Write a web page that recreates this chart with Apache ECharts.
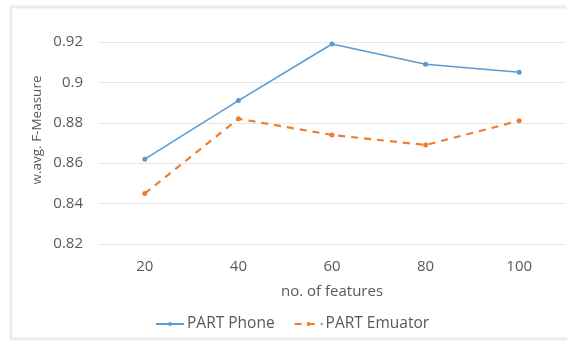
<!DOCTYPE html>
<html>
<head>
<meta charset="utf-8">
<script src="https://cdn.jsdelivr.net/npm/echarts@6/dist/echarts.min.js"></script>
<style>
  html, body { margin: 0; padding: 0; background: #fff; }
  #chart { width: 567px; height: 341px; }
</style>
</head>
<body>
<div id="chart"></div>
<script>
// Number of features used by the classifier
const featureCounts = ['20', '40', '60', '80', '100'];
// Weighted average F-measure per configuration
const partPhone = [0.862, 0.891, 0.919, 0.909, 0.905];
const partEmulator = [0.845, 0.882, 0.874, 0.869, 0.881];
// Value axis ticks
const yMin = 0.82;
const yMax = 0.92;
const yStep = 0.02;

const textColor = '#595959';
const fontFamily = '"Open Sans", "Liberation Sans", sans-serif';

const chart = echarts.init(document.getElementById('chart'));
chart.setOption({
  animation: false,
  backgroundColor: '#fff',
  textStyle: { fontFamily: fontFamily },
  graphic: [
    {
      type: 'rect',
      shape: { x: 11, y: 7, width: 570, height: 332 },
      style: { fill: 'none', stroke: '#ececec', lineWidth: 3 },
      silent: true
    },
    {
      type: 'text',
      x: 37,
      y: 130,
      rotation: Math.PI / 2,
      style: {
        text: 'w.avg. F-Measure',
        fill: textColor,
        font: '13.5px ' + fontFamily,
        align: 'center',
        verticalAlign: 'middle'
      }
    }
  ],
  grid: { left: 98, right: 1, top: 42, bottom: 97, containLabel: false },
  xAxis: {
    type: 'category',
    data: featureCounts,
    boundaryGap: true,
    name: 'no. of features',
    nameLocation: 'middle',
    nameGap: 40,
    nameTextStyle: { color: textColor, fontSize: 15 },
    axisLine: { show: false },
    axisTick: { show: false },
    axisLabel: { color: textColor, fontSize: 15, margin: 15 }
  },
  yAxis: {
    type: 'value',
    min: yMin,
    max: yMax,
    interval: yStep,
    axisLine: { show: false },
    axisTick: { show: false },
    axisLabel: {
      color: textColor,
      fontSize: 15,
      margin: 15,
      formatter: v => String(parseFloat(v.toFixed(2)))
    },
    splitLine: { lineStyle: { color: '#e6e6e6', width: 1 } }
  },
  legend: {
    top: 316,
    left: 155,
    padding: 0,
    itemWidth: 28,
    itemHeight: 5,
    itemGap: 19,
    textStyle: { color: textColor, fontSize: 15.5, padding: [0, 0, 0, -2] },
    data: ['PART Phone', 'PART Emuator']
  },
  series: [
    {
      name: 'PART Phone',
      type: 'line',
      data: partPhone,
      symbol: 'circle',
      symbolSize: 5,
      itemStyle: { color: '#5B9BD5' },
      lineStyle: { color: '#5B9BD5', width: 1.6 }
    },
    {
      name: 'PART Emuator',
      type: 'line',
      data: partEmulator,
      symbol: 'circle',
      symbolSize: 5,
      itemStyle: { color: '#ED7D31' },
      lineStyle: { color: '#ED7D31', width: 2.2, type: [7, 6] }
    }
  ]
});
</script>
</body>
</html>
